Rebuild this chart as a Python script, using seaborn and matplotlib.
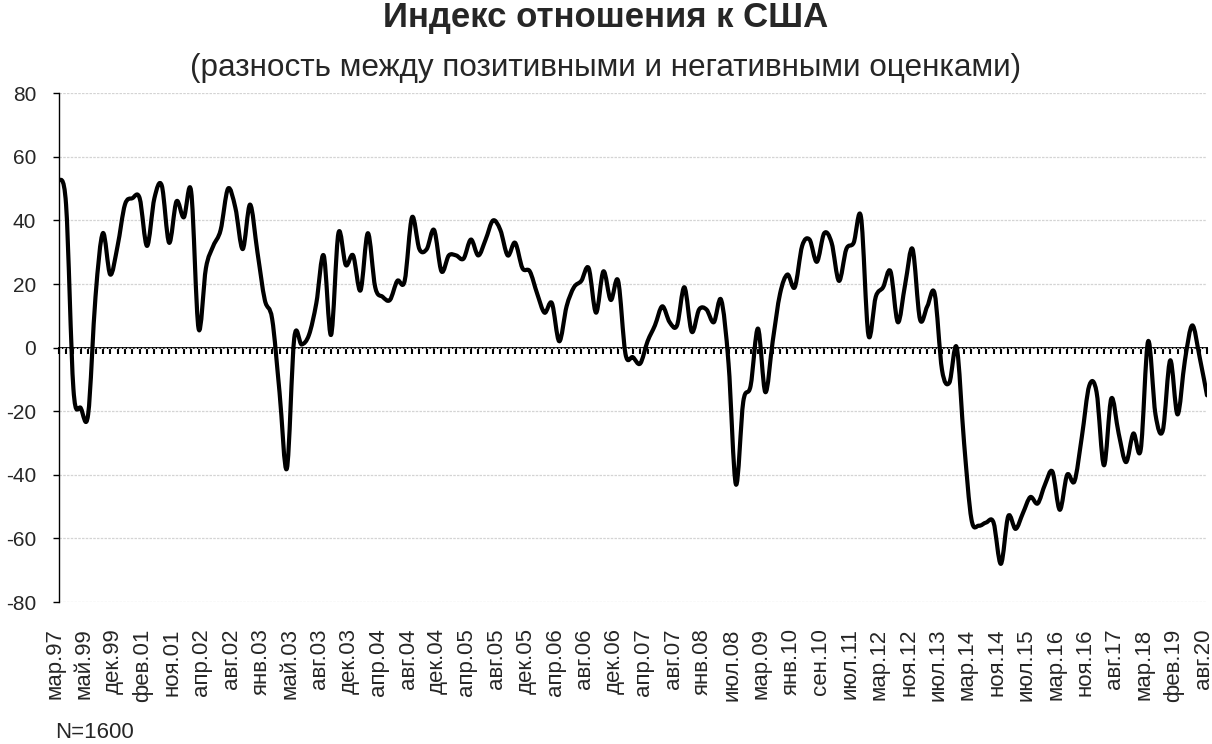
import numpy as np
import pandas as pd
import matplotlib
matplotlib.use("Agg")
import matplotlib.pyplot as plt
import matplotlib.transforms as mtransforms
from matplotlib.path import Path
from matplotlib.patches import PathPatch
import seaborn as sns

# Survey index: share of positive minus share of negative opinions
values = [
    53, 45, -13, -19, -21, 16, 36, 23, 32, 45,
    47, 47, 32, 47, 51, 33, 46, 41, 49, 6,
    25, 32, 37, 50, 44, 31, 45, 30, 15, 9,
    -14, -38, 3, 1, 4, 14, 29, 4, 36, 26,
    29, 18, 36, 19, 16, 15, 21, 21, 41, 31,
    31, 37, 24, 29, 29, 28, 34, 29, 34, 40,
    37, 29, 33, 25, 24, 17, 11, 14, 2, 13,
    19, 21, 25, 11, 24, 15, 21, -2, -3, -5,
    2, 7, 13, 8, 7, 19, 5, 12, 12, 8,
    15, -5, -43, -17, -12, 6, -14, 2, 17, 23,
    19, 32, 34, 27, 36, 33, 21, 31, 33, 41,
    4, 16, 19, 24, 8, 20, 31, 9, 13, 17,
    -7, -11, 0, -30, -54, -56, -55, -55, -68, -53,
    -57, -52, -47, -49, -43, -39, -51, -40, -42, -28,
    -12, -14, -37, -16, -27, -36, -27, -32, 2, -21,
    -26, -4, -21, -4, 7, -3, -15,
]

# Every fourth survey wave carries a date label
tick_labels = [
    "мар.97", "май.99", "дек.99", "фев.01", "ноя.01", "апр.02", "авг.02",
    "янв.03", "май.03", "авг.03", "дек.03", "апр.04", "авг.04", "дек.04",
    "апр.05", "авг.05", "дек.05", "апр.06", "авг.06", "дек.06", "апр.07",
    "авг.07", "янв.08", "июл.08", "мар.09", "янв.10", "сен.10", "июл.11",
    "мар.12", "ноя.12", "июл.13", "мар.14", "ноя.14", "июл.15", "мар.16",
    "ноя.16", "авг.17", "мар.18", "фев.19", "авг.20",
]
label_step = 4

title = "Индекс отношения к США"
subtitle = "(разность между позитивными и негативными оценками)"
note = "N=1600"

sns.set_style("white")
plt.rcParams["font.family"] = ["Liberation Sans", "DejaVu Sans"]
plt.rcParams["axes.unicode_minus"] = False

n = len(values)
df = pd.DataFrame({"wave": np.arange(n), "index": values})

W, H = 1212, 744
fig = plt.figure(figsize=(W / 100, H / 100), dpi=100)
x0, x1, ytop, ybot = 58.7, 1207.0, 93.3, 602.0
ax = fig.add_axes([x0 / W, 1 - ybot / H, (x1 - x0) / W, (ybot - ytop) / H])

ax.set_axisbelow(True)
ax.yaxis.grid(True, color="#d4d4d4", linewidth=0.9, linestyle=(0, (2, 1)))
ax.xaxis.grid(False)

sns.lineplot(data=df, x="wave", y="index", color="black", linewidth=3.0, ax=ax)


def smoothed_path(xs, ys):
    """Cubic Bezier path through every point (Catmull-Rom tangents)."""
    pts = np.column_stack([xs, ys]).astype(float)
    ext = np.vstack([pts[0], pts, pts[-1]])
    verts = [pts[0]]
    codes = [Path.MOVETO]
    for i in range(len(pts) - 1):
        p0, p1, p2, p3 = ext[i], ext[i + 1], ext[i + 2], ext[i + 3]
        c1 = p1 + (p2 - p0) / 6.0
        c2 = p2 - (p3 - p1) / 6.0
        verts += [c1, c2, p2]
        codes += [Path.CURVE4] * 3
    return Path(verts, codes)


# Render the series as a smoothed curve through the same data points
line = ax.lines[0]
curve = PathPatch(smoothed_path(line.get_xdata(), line.get_ydata()),
                  facecolor="none", edgecolor="black", linewidth=3.0,
                  joinstyle="round", capstyle="round", zorder=3)
ax.add_patch(curve)
line.remove()

ax.set_xlim(0, n - 1)
ax.set_ylim(-80, 80)
ax.set_yticks(range(-80, 81, 20))
ax.set_xlabel("")
ax.set_ylabel("")

for side in ("top", "right", "bottom"):
    ax.spines[side].set_visible(False)
ax.spines["left"].set_color("black")
ax.spines["left"].set_linewidth(1.0)
ax.spines["left"].set_zorder(4)

ax.tick_params(axis="y", direction="out", length=4.3, width=1.0, color="black",
               labelsize=15, pad=12, left=True)

ax.set_xticks(np.arange(0, n, label_step))
ax.set_xticklabels(tick_labels, rotation=90, fontsize=16, va="top", ha="center")
ax.tick_params(axis="x", length=0, pad=19)
shift = mtransforms.ScaledTranslation(-4 / 100, 0, fig.dpi_scale_trans)
for lbl in ax.get_xticklabels():
    lbl.set_transform(lbl.get_transform() + shift)

# Category axis drawn across the zero level with a tick at every wave
zero_axis = ax.secondary_xaxis(0.5)
zero_axis.set_xticks(np.arange(n))
zero_axis.tick_params(direction="in", length=4.5, width=1.5, color="black",
                      labeltop=False, labelbottom=False)
for sp in zero_axis.spines.values():
    sp.set_linewidth(1.4)
    sp.set_color("black")

fig.text(0.5, 1 - 17 / H, title, ha="center", va="center",
         fontsize=25, fontweight="bold")
fig.text(0.5, 1 - 68 / H, subtitle, ha="center", va="center", fontsize=22.7)
fig.text(55 / W, 1 - 732 / H, note, ha="left", va="center", fontsize=16)

fig.savefig("out.png", dpi=100)
